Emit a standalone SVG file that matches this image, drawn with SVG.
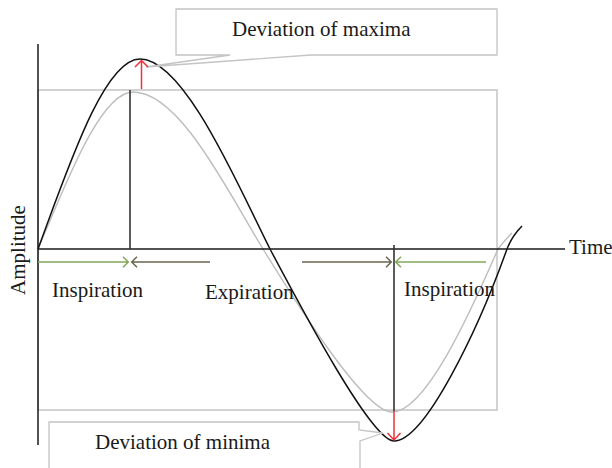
<svg xmlns="http://www.w3.org/2000/svg" width="612" height="468" viewBox="0 0 612 468">
<style>
text{font-family:"Liberation Serif","Times New Roman",serif;font-size:21px;fill:#1a1a1a}
.frame{fill:none;stroke:#c4c4c4;stroke-width:1.5}
.callout{fill:#fff;stroke:#c4c4c4;stroke-width:1.3}
.axis{fill:none;stroke:#1a1a1a;stroke-width:1.5}
.curveB{fill:none;stroke:#111;stroke-width:1.5}
.curveG{fill:none;stroke:#bdbdbd;stroke-width:1.4}
.vline{stroke:#333;stroke-width:1.6}
.red{fill:none;stroke:#f0303a;stroke-width:1.5}
.green{fill:none;stroke:#84a85a;stroke-width:1.5}
.dark{fill:none;stroke:#6b6650;stroke-width:1.5}
</style>
<rect id="frame" class="frame" x="38" y="90" width="459" height="320"/>
<g id="curves">
<path id="gray-curve" class="curveG" d="M38,249 C65,186 100,92 133,92 C180,92 228,192 263,249 C300,309 365,412 392,412 C425,412 468,318 498,249 Q504,241 512,233"/>
<path id="black-curve" class="curveB" d="M38,249 C68,168 104,59 140,59 C185,59 240,190 270,249 C305,315 372,441 394,441 C425,441 478,330 507,249 Q512,236 522,226"/>
</g>
<g id="axes">
<line class="axis" x1="38" y1="44" x2="38" y2="445"/>
<line class="axis" x1="38" y1="249" x2="565" y2="249"/>
<text x="569" y="254">Time</text>
<text transform="translate(25,250) rotate(-90)" text-anchor="middle">Amplitude</text>
</g>
<g id="maxima-callout">
<path class="callout" d="M176,9 H497 V55 H311 L146,67 L230,55 H176 Z"/>
<text x="232" y="36">Deviation of maxima</text>
</g>
<g id="minima-callout">
<path class="callout" d="M49,422 H359 V430 L383,433 L360,441 V472 H49 Z"/>
<text x="95" y="449">Deviation of minima</text>
</g>
<g id="labels">
<text x="52" y="297">Inspiration</text>
<text x="205" y="299">Expiration</text>
<text x="404" y="296">Inspiration</text>
</g>
<g id="connectors">
<line class="vline" x1="130" y1="90" x2="130" y2="249"/>
<line class="vline" x1="394" y1="245" x2="394" y2="411"/>
<path class="red" d="M141.5,89 V60.5 M135,67 L141.5,60.5 L148,67"/>
<path class="red" d="M394,411 V440 M387.5,433 L394,440 L400.5,433"/>
<path class="green" d="M38,262 H128 M123,256.7 L128.3,262 L123,267.3"/>
<path class="dark" d="M210,262 H132 M137,256.7 L131.7,262 L137,267.3"/>
<path class="dark" d="M302,262 H391 M386,256.7 L391.3,262 L386,267.3"/>
<path class="green" d="M486,262 H396 M401,256.7 L395.7,262 L401,267.3"/>
</g>
</svg>
